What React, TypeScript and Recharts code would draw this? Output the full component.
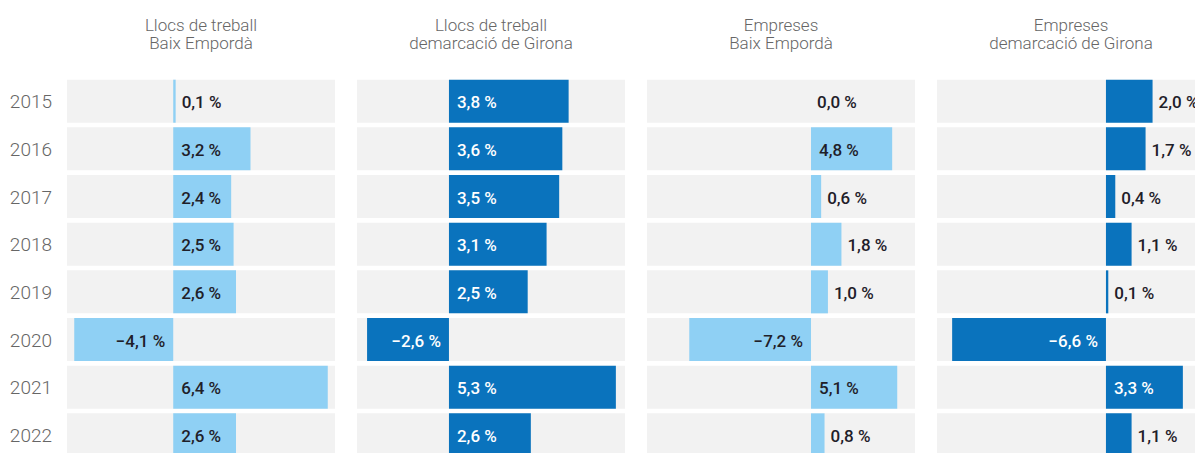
import React from 'react'
import { BarChart, Bar, XAxis, YAxis, LabelList } from 'recharts'

const years = ['2015', '2016', '2017', '2018', '2019', '2020', '2021', '2022']

const llocsBaix = [0.1, 3.2, 2.4, 2.5, 2.6, -4.1, 6.4, 2.6]
const llocsGirona = [3.8, 3.6, 3.5, 3.1, 2.5, -2.6, 5.3, 2.6]
const empresesBaix = [0.0, 4.8, 0.6, 1.8, 1.0, -7.2, 5.1, 0.8]
const empresesGirona = [2.0, 1.7, 0.4, 1.1, 0.1, -6.6, 3.3, 1.1]

const titles = [
  ['Llocs de treball', 'Baix Empordà'],
  ['Llocs de treball', 'demarcació de Girona'],
  ['Empreses', 'Baix Empordà'],
  ['Empreses', 'demarcació de Girona'],
]

const LIGHT = '#8fd0f4'
const DARK = '#0a73bd'
const TEXT_DARK = '#1f2029'
const FONT = 'Roboto, "Noto Sans", sans-serif'

const AXIS_W = 67
const PLOT_W = 268
const TOP = 77.7
const HEIGHT = 459

const panels = [
  { values: llocsBaix, color: LIGHT, inner: TEXT_DARK, domain: [-4.4, 6.7], left: 67 },
  { values: llocsGirona, color: DARK, inner: '#ffffff', domain: [-2.92, 5.59], left: 357 },
  { values: empresesBaix, color: LIGHT, inner: TEXT_DARK, domain: [-9.7, 6.15], left: 647 },
  { values: empresesGirona, color: DARK, inner: '#ffffff', domain: [-7.25, 4.25], left: 937 },
]

function fmt(v: number) {
  const s = Math.abs(v).toFixed(1).replace('.', ',') + ' %'
  return v < 0 ? '\u2212' + s : s
}

// labels sit on a transparent full-span bar so that zero values still get one
function makeLabel(innerFill: string, domain: number[]) {
  return (props: any) => {
    const { x, y, width, height, value } = props
    const v = Number(value)
    const x0 = Math.min(x, x + width)
    const w = Math.abs(width)
    const toPx = (d: number) => x0 + ((d - domain[0]) / (domain[1] - domain[0])) * w
    const zero = toPx(0)
    const end = toPx(v)
    const text = fmt(v)
    const tw = text.length * 8
    const common = {
      y: y + height / 2 + 1,
      dominantBaseline: 'central' as const,
      fontSize: 17,
      fontWeight: 500,
      fontFamily: FONT,
    }
    if (v < 0) {
      return <text {...common} x={zero - 8} textAnchor="end" fill={innerFill}>{text}</text>
    }
    const inside = end - zero >= tw + 12
    return (
      <text {...common} x={inside ? zero + 8 : end + 6} textAnchor="start" fill={inside ? innerFill : TEXT_DARK}>
        {text}
      </text>
    )
  }
}

function Panel({ idx }: { idx: number }) {
  const p = panels[idx]
  const withAxis = idx === 0
  const data = years.map((year, i) => ({ year, value: p.values[i], span: p.domain }))
  return (
    <div style={{ position: 'absolute', left: withAxis ? 0 : p.left, top: 0 }}>
      <BarChart
        width={withAxis ? AXIS_W + PLOT_W : PLOT_W}
        height={HEIGHT}
        data={data}
        layout="vertical"
        margin={{ top: TOP, right: 0, bottom: 0, left: 0 }}
      >
        <XAxis type="number" hide domain={p.domain} allowDataOverflow />
        <YAxis
          type="category"
          dataKey="year"
          hide={!withAxis}
          width={AXIS_W}
          axisLine={false}
          tickLine={false}
          tickSize={0}
          tickMargin={15}
          tick={{ fill: '#666', fontSize: 19, fontWeight: 300, fontFamily: FONT }}
        />
        <YAxis yAxisId="bg" type="category" dataKey="year" hide />
        <YAxis yAxisId="lbl" type="category" dataKey="year" hide />
        <Bar yAxisId="bg" dataKey="span" fill="#f2f2f2" barSize={43} isAnimationActive={false} />
        <Bar dataKey="value" fill={p.color} barSize={43} isAnimationActive={false} />
        <Bar yAxisId="lbl" dataKey="span" fill="transparent" barSize={43} isAnimationActive={false}>
          <LabelList dataKey="value" content={makeLabel(p.inner, p.domain)} />
        </Bar>
      </BarChart>
    </div>
  )
}

export default function App() {
  return (
    <div
      style={{
        position: 'absolute', left: 0, top: 0, width: 1195, height: 453,
        overflow: 'hidden', background: '#fff', fontFamily: FONT,
      }}
    >
      {panels.map((p, i) => (
        <div
          key={'t' + i}
          style={{
            position: 'absolute', left: p.left, top: 16, width: PLOT_W,
            textAlign: 'center', fontSize: 17, lineHeight: '18px',
            fontWeight: 300, color: '#666',
          }}
        >
          {titles[i][0]}
          <br />
          {titles[i][1]}
        </div>
      ))}
      {panels.map((_, i) => <Panel key={i} idx={i} />)}
    </div>
  )
}
